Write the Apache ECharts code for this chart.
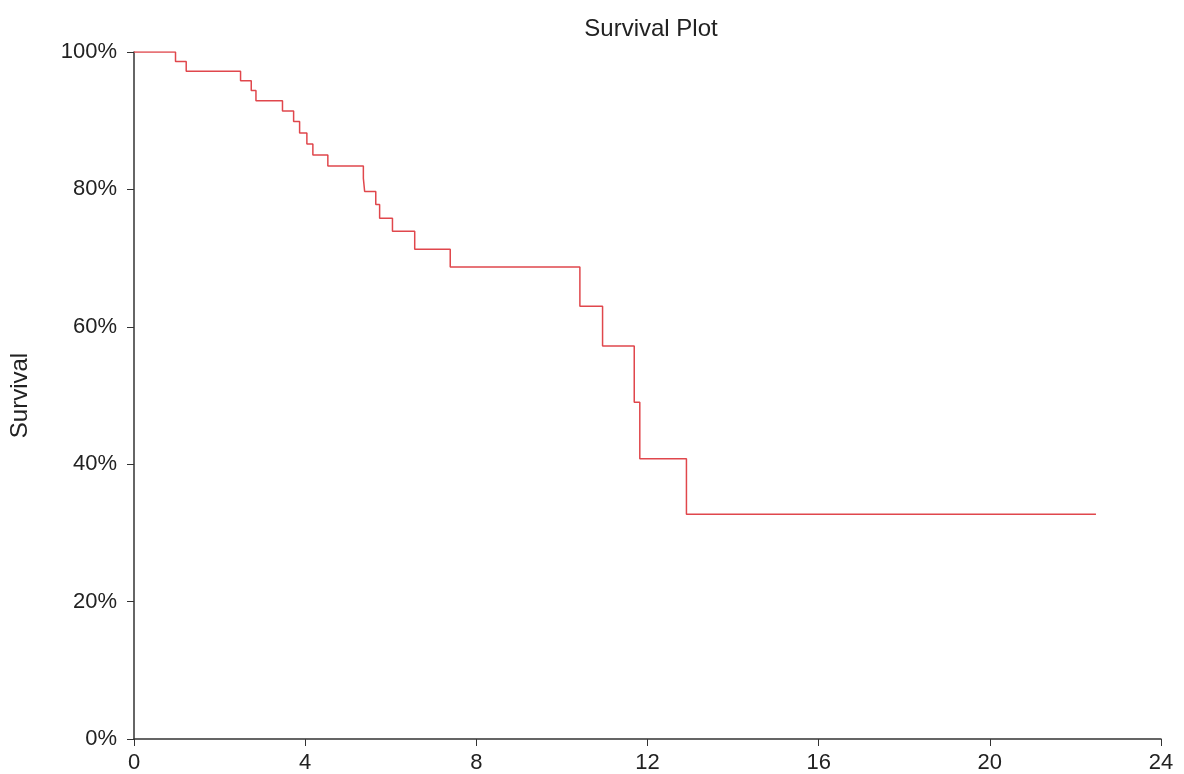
<!DOCTYPE html>
<html>
<head>
	<meta charset="utf-8">
	<title>Survival Plot</title>
	<script src="https://cdn.jsdelivr.net/npm/echarts@6/dist/echarts.min.js"></script>
</head>
<body style="margin:0">
	<div id="main" style="width:1184px;height:774px;"></div>
	<script type="text/javascript">
		// Kaplan-Meier step points: time and survival (%) after each drop
		var times = [0, 0.97, 1.22, 2.49, 2.74, 2.85, 3.47, 3.73, 3.87, 4.04, 4.18, 4.53, 5.36, 5.39, 5.65, 5.74, 6.04, 6.56, 7.39, 10.42, 10.95, 11.69, 11.82, 12.91, 22.48]
		var survival = [100, 98.6, 97.2, 95.8, 94.4, 92.9, 91.4, 89.9, 88.2, 86.6, 85.0, 83.4, 81.6, 79.7, 77.8, 75.8, 73.9, 71.3, 68.7, 63.0, 57.2, 49.0, 40.8, 32.7, 32.7]
		var xTicks = [0, 4, 8, 12, 16, 20, 24]

		var chart = echarts.init(document.getElementById('main'))

		var points = times.map(function (t, i) { return [t, survival[i]] })

		var axisText = { color: '#222', fontSize: 22, fontFamily: 'Liberation Sans' }

		chart.setOption({
			animation: false,
			title: {
				text: 'Survival Plot',
				left: 646,
				textAlign: 'center',
				top: 12,
				textStyle: { color: '#222', fontSize: 24, fontWeight: 'normal', fontFamily: 'Liberation Sans' }
			},
			grid: { left: 132, right: 23, top: 52, bottom: 35 },
			xAxis: {
				type: 'value',
				min: xTicks[0],
				max: xTicks[xTicks.length - 1],
				interval: 4,
				axisLine: { lineStyle: { color: '#333', width: 1.5 } },
				axisTick: { show: true, length: 7, lineStyle: { color: '#333' } },
				axisLabel: Object.assign({ margin: 13 }, axisText),
				splitLine: { show: false }
			},
			yAxis: {
				type: 'value',
				min: 0,
				max: 100,
				interval: 20,
				name: 'Survival',
				nameLocation: 'middle',
				nameGap: 102,
				nameTextStyle: { color: '#222', fontSize: 24, fontFamily: 'Liberation Sans' },
				axisLine: { show: true, lineStyle: { color: '#333', width: 1.5 } },
				axisTick: { show: true, length: 7, lineStyle: { color: '#333' } },
				axisLabel: Object.assign({ margin: 17, formatter: '{value}%' }, axisText),
				splitLine: { show: false }
			},
			series: [{
				type: 'line',
				step: 'end',
				data: points,
				showSymbol: false,
				lineStyle: { color: '#e0474c', width: 1.5 }
			}]
		})
	</script>
</body>
</html>
